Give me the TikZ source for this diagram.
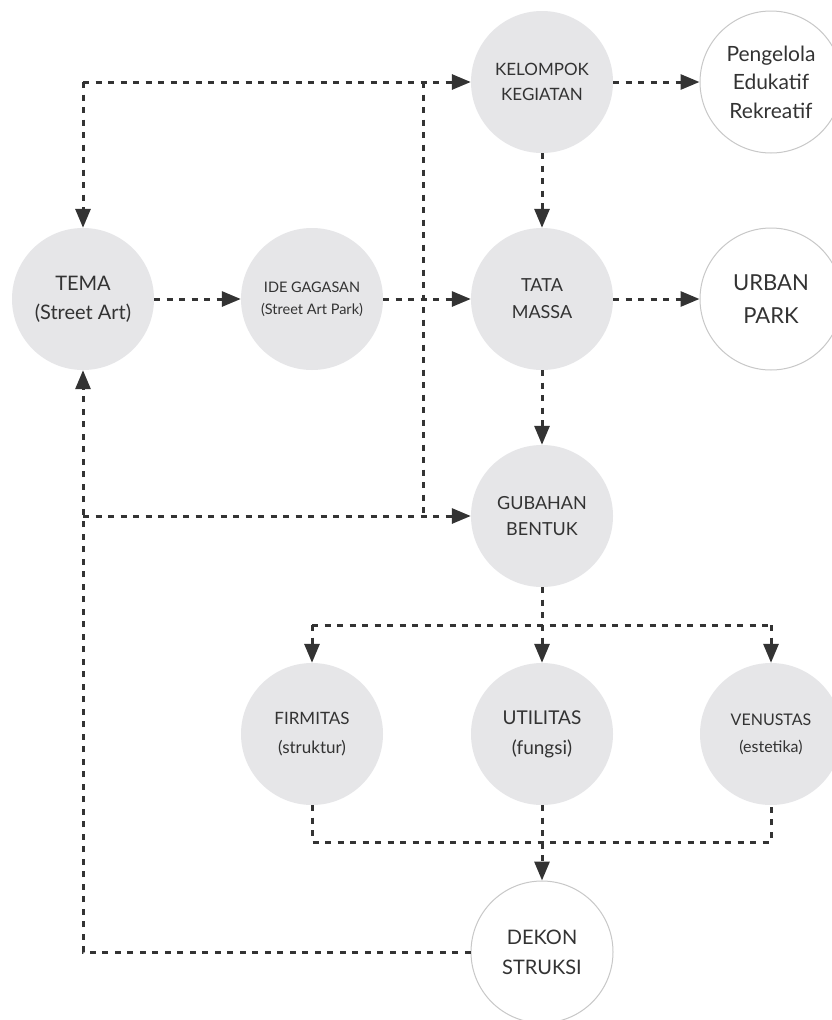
\documentclass[tikz,border=0pt]{standalone}
\usepackage{fontspec}
\setmainfont{Lato}
\usetikzlibrary{arrows.meta}
\definecolor{fillg}{HTML}{E6E6E8}
\definecolor{ringg}{HTML}{C8C8C8}
\definecolor{txtd}{HTML}{333333}
\definecolor{lined}{HTML}{333333}
\newcommand{\fs}[2]{\fontsize{#1}{#2}\selectfont}
\begin{document}
\begin{tikzpicture}[x=1pt,y=-1pt,
  bub/.style={circle, minimum size=142pt, inner sep=0pt, align=center, text=txtd},
  gbub/.style={bub, fill=fillg},
  wbub/.style={bub, fill=white, draw=ringg, line width=1pt},
  conn/.style={draw=lined, line width=3pt, dash pattern=on 6pt off 6.5pt},
  arr/.style={conn, -{Triangle[length=19pt,width=15pt]}}
]
\useasboundingbox (0,0) rectangle (832,1020);
\clip (0,0) rectangle (832,1020);
\fill[white] (0,0) rectangle (832,1020);

% nodes
\node[gbub, font=\fs{17}{25}] (kel) at (542,82) {KELOMPOK\\KEGIATAN};
\node[wbub, font=\fs{21}{28.5}] (peng) at (771,82) {Pengelola\\Edukatif\\Rekreatif};
\node[gbub, font=\fs{20}{29}] (tema) at (83,299) {TEMA\\(Street Art)};
\node[gbub, font=\fs{14.5}{22}] (ide) at (312,299) {IDE GAGASAN\\(Street Art Park)};
\node[gbub, font=\fs{18}{27}] (tata) at (542,299) {TATA\\MASSA};
\node[wbub, font=\fs{22}{33}] (urban) at (771,299) {URBAN\\PARK};
\node[gbub, font=\fs{18}{26}] (gub) at (542,516) {GUBAHAN\\BENTUK};
\node[gbub, font=\fs{17}{29}] (firm) at (312,734) {FIRMITAS\\(struktur)};
\node[gbub, font=\fs{19}{30}] (util) at (542,734) {UTILITAS\\(fungsi)};
\node[gbub, font=\fs{16}{27}] (ven) at (771,734) {VENUSTAS\\(estetika)};
\node[wbub, font=\fs{20}{30}] (dek) at (542,952) {DEKON\\STRUKSI};

% junction coordinates
\coordinate (tl) at (83,82);
\coordinate (j1) at (423,82);
\coordinate (j2) at (423,516);
\coordinate (ml) at (83,516);
\coordinate (bl) at (83,952);
\coordinate (sm) at (542,625);
\coordinate (sl) at (312,625);
\coordinate (sr) at (771,625);
\coordinate (cl) at (312,842);
\coordinate (cm) at (542,842);
\coordinate (cr) at (771,842);

% connectors
\draw[arr] (tl) -- (kel.west);
\draw[arr] (tl) -- (tema.north);
\draw[conn] (j1) -- (j2);
\draw[arr] (ml) -- (gub.west);
\draw[arr] (dek.west) -- (bl) -- (tema.south);
\draw[arr] (tema.east) -- (ide.west);
\draw[arr] (ide.east) -- (tata.west);
\draw[arr] (tata.east) -- (urban.west);
\draw[arr] (kel.east) -- (peng.west);
\draw[arr] (kel.south) -- (tata.north);
\draw[arr] (tata.south) -- (gub.north);
\draw[conn] (gub.south) -- (sm);
\draw[conn] (sl) -- (sr);
\draw[arr] (sl) -- (firm.north);
\draw[arr] (sm) -- (util.north);
\draw[arr] (sr) -- (ven.north);
\draw[conn] (firm.south) -- (cl) -- (cr) -- (ven.south);
\draw[arr] (util.south) -- (dek.north);
\end{tikzpicture}
\end{document}
